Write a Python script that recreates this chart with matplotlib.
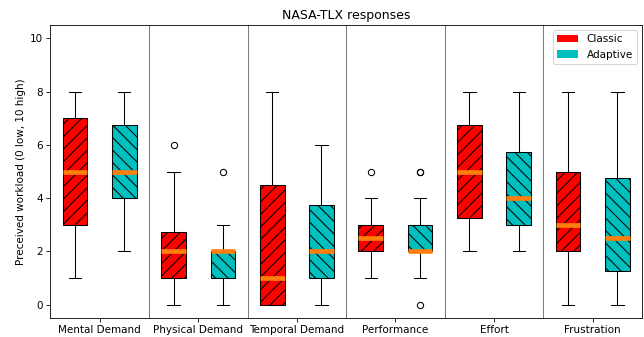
import matplotlib
matplotlib.use("Agg")
import matplotlib.pyplot as plt
from matplotlib.patches import Patch

categories = ["Mental Demand", "Physical Demand", "Temporal Demand", "Performance", "Effort", "Frustration"]
series = ["Classic", "Adaptive"]

# (whislo, q1, med, q3, whishi)
classic_stats = [
    (1, 3, 5, 7, 8),
    (0, 1, 2, 2.75, 5),
    (0, 0, 1, 4.5, 8),
    (1, 2, 2.5, 3, 4),
    (2, 3.25, 5, 6.75, 8),
    (0, 2, 3, 5, 8),
]
classic_fliers = [[], [6], [], [5], [], []]

adaptive_stats = [
    (2, 4, 5, 6.75, 8),
    (0, 1, 2, 2, 3),
    (0, 1, 2, 3.75, 6),
    (1, 2, 2, 3, 4),
    (2, 3, 4, 5.75, 8),
    (0, 1.25, 2.5, 4.75, 8),
]
adaptive_fliers = [[], [5], [], [5, 5, 0], [], []]

colors = ["red", "c"]
hatches = ["//", "\\\\"]


def to_bxp(stats, fliers):
    out = []
    for (lo, q1, med, q3, hi), fl in zip(stats, fliers):
        out.append(dict(whislo=lo, q1=q1, med=med, q3=q3, whishi=hi, fliers=fl))
    return out


DPI = 75
fig = plt.figure(figsize=(644 / DPI, 337 / DPI), dpi=DPI)
ax = fig.add_axes([0.078, 0.056, 0.919, 0.870])

n = len(categories)
for s, (stats, fl) in enumerate([(classic_stats, classic_fliers), (adaptive_stats, adaptive_fliers)]):
    offset = -0.25 if s == 0 else 0.25
    pos = [i + offset for i in range(n)]
    bp = ax.bxp(to_bxp(stats, fl), positions=pos, widths=0.25, patch_artist=True,
                medianprops=dict(color="#ff7f0e", linewidth=4.5),
                flierprops=dict(marker="o", markerfacecolor="none", markeredgecolor="black", markersize=6))
    for b in bp["boxes"]:
        b.set_facecolor(colors[s])
        b.set_hatch(hatches[s])
        b.set_edgecolor("black")

for i in range(n - 1):
    ax.axvline(i + 0.5, color="gray", linewidth=1)

ax.set_xticks(range(n))
ax.set_xticklabels(categories)
ax.set_xlim(-0.5, 5.5)
ax.set_ylim(-0.5, 10.5)
ax.set_yticks([0, 2, 4, 6, 8, 10])
ax.set_ylabel("Preceived workload (0 low, 10 high)")
ax.set_title("NASA-TLX responses")

handles = [Patch(facecolor=colors[0], label=series[0]), Patch(facecolor=colors[1], label=series[1])]
ax.legend(handles=handles, loc="upper right")

fig.savefig("out.png", dpi=DPI)
